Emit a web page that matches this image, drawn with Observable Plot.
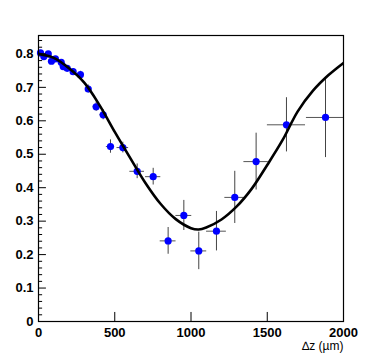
<!DOCTYPE html>
<html>
<head>
<meta charset="utf-8">
<script src="https://cdn.jsdelivr.net/npm/d3@7"></script>
<script src="https://cdn.jsdelivr.net/npm/@observablehq/plot@0.6"></script>
<style>
  html, body { margin: 0; padding: 0; background: #fff; }
  #chart svg { display: block; }
</style>
</head>
<body>
<div id="chart"></div>
<script>
// Measured points: Δz (µm), value, x half-error, y half-error
const dz   = [13, 35, 64, 85, 111, 149, 162, 188, 227, 275, 326, 378, 424, 472, 553, 647, 752, 850, 953, 1051, 1167, 1287, 1427, 1626, 1882];
const val  = [0.803, 0.792, 0.800, 0.778, 0.785, 0.775, 0.762, 0.757, 0.747, 0.738, 0.695, 0.642, 0.618, 0.523, 0.520, 0.449, 0.433, 0.241, 0.317, 0.211, 0.270, 0.371, 0.478, 0.588, 0.610];
const dzErr  = [8, 8, 8, 8, 8, 10, 10, 12, 12, 15, 15, 20, 22, 27, 38, 48, 50, 52, 52, 52, 65, 65, 80, 125, 125];
const valErr = [0.006, 0.006, 0.006, 0.007, 0.007, 0.008, 0.008, 0.008, 0.009, 0.010, 0.012, 0.014, 0.015, 0.020, 0.016, 0.022, 0.025, 0.040, 0.045, 0.056, 0.059, 0.078, 0.085, 0.081, 0.120];

// Fitted curve
const curveX = [0, 100, 200, 300, 400, 500, 600, 700, 800, 900, 1000, 1050, 1100, 1200, 1300, 1400, 1500, 1600, 1700, 1800, 1900, 2000];
const curveY = [0.800, 0.788, 0.757, 0.714, 0.647, 0.567, 0.490, 0.415, 0.352, 0.306, 0.279, 0.275, 0.281, 0.305, 0.344, 0.398, 0.468, 0.542, 0.628, 0.690, 0.736, 0.773];

// Axis ticks and labels
const yMajor = [0, 0.1, 0.2, 0.3, 0.4, 0.5, 0.6, 0.7, 0.8];
const yMinor = [0.02,0.04,0.06,0.08,0.12,0.14,0.16,0.18,0.22,0.24,0.26,0.28,0.32,0.34,0.36,0.38,0.42,0.44,0.46,0.48,0.52,0.54,0.56,0.58,0.62,0.64,0.66,0.68,0.72,0.74,0.76,0.78,0.82,0.84];
const xMajor = [0, 500, 1000, 1500, 2000];
const xInner = [500, 1000, 1500];
const xTitle = ["\u2206z (\u00b5m)"];

const points = dz.map((d, i) => ({x: d, y: val[i], xe: dzErr[i], ye: valErr[i]}));
const curve = curveX.map((d, i) => ({x: d, y: curveY[i]}));

const font = "'Liberation Sans', Arial, Helvetica, sans-serif";

const chart = Plot.plot({
  width: 382,
  height: 357,
  marginLeft: 38,
  marginRight: 39,
  marginTop: 35,
  marginBottom: 36,
  style: {fontFamily: font, background: "white", overflow: "visible"},
  x: {domain: [0, 2000], axis: null},
  y: {domain: [0, 0.855], axis: null},
  marks: [
    // error bars
    Plot.ruleY(points, {y: "y", x1: d => d.x - d.xe, x2: d => d.x + d.xe, stroke: "#555", strokeWidth: 1, clip: true}),
    Plot.ruleX(points, {x: "x", y1: d => d.y - d.ye, y2: d => d.y + d.ye, stroke: "#444", strokeWidth: 1, clip: true}),
    // data points
    Plot.dot(points, {x: "x", y: "y", r: 3.6, fill: "#0000ff", stroke: "none"}),
    // fit curve
    Plot.line(curve, {x: "x", y: "y", stroke: "black", strokeWidth: 2.6, curve: "catmull-rom", clip: true}),
    // ticks
    Plot.ruleY(yMajor, {y: d => d, x1: 0, x2: 52, stroke: "black", strokeWidth: 1}),
    Plot.ruleY(yMinor, {y: d => d, x1: 0, x2: 27, stroke: "black", strokeWidth: 1}),
    Plot.ruleX(xInner, {x: d => d, y1: 0, y2: 0.027, stroke: "black", strokeWidth: 1}),
    Plot.frame({stroke: "black", strokeWidth: 1.2}),
    // tick labels
    Plot.text(yMajor, {x: 0, y: d => d, text: d => d === 0 ? "0" : d.toFixed(1), textAnchor: "end", dx: -5, fontSize: 13, fontWeight: "bold", fill: "black"}),
    Plot.text(xMajor, {x: d => d, y: 0, text: d => String(d), textAnchor: "middle", dy: 11, fontSize: 13, fontWeight: "bold", fill: "black"}),
    Plot.text(xTitle, {x: 2000, y: 0, text: d => d, textAnchor: "end", dy: 25, fontSize: 12, fill: "black"})
  ]
});

document.getElementById("chart").appendChild(chart);
</script>
</body>
</html>
